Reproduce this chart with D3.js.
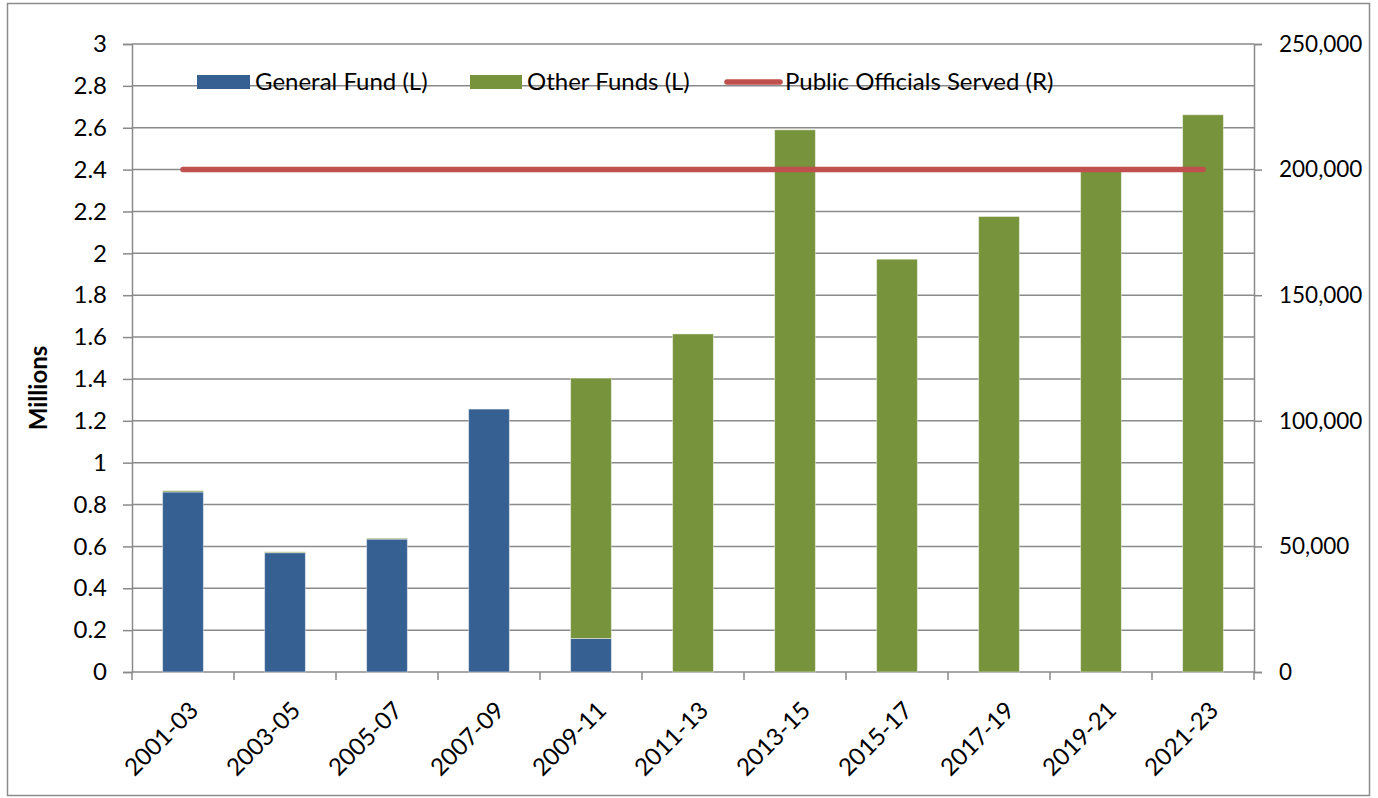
<!DOCTYPE html>
<html>
<head>
<meta charset="utf-8">
<script src="https://cdn.jsdelivr.net/npm/d3@7"></script>
<style>
  html, body { margin: 0; padding: 0; background: #fff; }
  svg { display: block; }
  text { font-family: Lato, "Open Sans", sans-serif; fill: #000; }
</style>
</head>
<body>
<svg id="chart" width="1378" height="798"></svg>
<script>
const categories = ["2001-03","2003-05","2005-07","2007-09","2009-11","2011-13","2013-15","2015-17","2017-19","2019-21","2021-23"];
const generalFund = [0.860, 0.570, 0.635, 1.256, 0.160, 0, 0, 0, 0, 0, 0];
const otherFunds  = [0.006, 0.004, 0.004, 0.000, 1.244, 1.615, 2.590, 1.972, 2.176, 2.392, 2.662];
const officialsServed = [200000, 200000, 200000, 200000, 200000, 200000, 200000, 200000, 200000, 200000, 200000];
const leftTicks = [0,0.2,0.4,0.6,0.8,1,1.2,1.4,1.6,1.8,2,2.2,2.4,2.6,2.8,3];
const rightTicks = [0,50000,100000,150000,200000,250000];
const seriesNames = ["General Fund (L)", "Other Funds (L)", "Public Officials Served (R)"];

const colors = { gf: "#366092", of: "#77933C", line: "#C0504D", grid: "#8a8a8a" };
const margin = { left: 132, right: 1254, top: 44, bottom: 672 };
const FS = "24px";

const svg = d3.select("#chart");

// outer border
svg.append("rect").attr("x", 7.5).attr("y", 3.5).attr("width", 1362).attr("height", 792)
  .attr("fill", "none").attr("stroke", "#8c8c8c").attr("stroke-width", 1.5);

const x = d3.scaleBand().domain(categories).range([margin.left, margin.right])
  .paddingInner(0.6).paddingOuter(0.3);
const step = x.step();
const yL = d3.scaleLinear().domain([0, 3]).range([margin.bottom, margin.top]);
const yR = d3.scaleLinear().domain([0, 250000]).range([margin.bottom, margin.top]);

// gridlines
svg.append("g").selectAll("line").data(leftTicks.filter(d => d > 0)).join("line")
  .attr("x1", margin.left).attr("x2", margin.right)
  .attr("y1", d => yL(d)).attr("y2", d => yL(d))
  .attr("stroke", colors.grid).attr("stroke-width", 1.5);

// left axis
const axL = svg.append("g").attr("transform", `translate(${margin.left},0)`)
  .call(d3.axisLeft(yL).tickValues(leftTicks).tickSize(9).tickPadding(16).tickFormat(d => String(+d.toFixed(1))));
axL.select(".domain").attr("stroke", colors.grid).attr("stroke-width", 1.5);
axL.selectAll(".tick line").attr("stroke", colors.grid).attr("stroke-width", 1.5);
axL.selectAll("text").style("font-size", FS).style("font-family", "Lato, 'Open Sans', sans-serif").attr("fill", "#000");

// right axis
const axR = svg.append("g").attr("transform", `translate(${margin.right},0)`)
  .call(d3.axisRight(yR).tickValues(rightTicks).tickSize(8).tickPadding(17).tickFormat(d3.format(",")));
axR.select(".domain").attr("stroke", colors.grid).attr("stroke-width", 1.5);
axR.selectAll(".tick line").attr("stroke", colors.grid).attr("stroke-width", 1.5);
axR.selectAll("text").style("font-size", "22.5px").style("font-family", "Lato, 'Open Sans', sans-serif").attr("fill", "#000");

// bottom axis line and category boundary ticks
svg.append("line").attr("x1", margin.left).attr("x2", margin.right)
  .attr("y1", margin.bottom).attr("y2", margin.bottom)
  .attr("stroke", colors.grid).attr("stroke-width", 1.5);
const boundaries = categories.map(c => x(c) - (step - x.bandwidth()) / 2).concat([margin.right]);
svg.append("g").selectAll("line").data(boundaries).join("line")
  .attr("x1", d => d).attr("x2", d => d)
  .attr("y1", margin.bottom).attr("y2", margin.bottom + 8)
  .attr("stroke", colors.grid).attr("stroke-width", 1.5);

// x labels
svg.append("g").selectAll("text").data(categories).join("text")
  .attr("transform", d => `translate(${x(d) + x.bandwidth() / 2 + 5},${margin.bottom + 28}) rotate(-45)`)
  .attr("text-anchor", "end").attr("dy", "0.7em")
  .style("font-size", FS).text(d => d);

// stacked bars
const stackData = categories.map((c, i) => ({ cat: c, gf: generalFund[i], of: otherFunds[i] }));
const stack = d3.stack().keys(["gf", "of"])(stackData);
svg.append("g").selectAll("g").data(stack).join("g")
  .attr("fill", d => colors[d.key])
  .selectAll("rect").data(d => d).join("rect")
  .attr("x", d => x(d.data.cat)).attr("width", x.bandwidth())
  .attr("y", d => yL(d[1])).attr("height", d => Math.max(0, yL(d[0]) - yL(d[1])))
  .attr("stroke", "rgba(255,255,255,0.45)").attr("stroke-width", 1);

// line
const line = d3.line().x((d, i) => x(categories[i]) + x.bandwidth() / 2).y(d => yR(d));
svg.append("path").datum(officialsServed).attr("d", line)
  .attr("fill", "none").attr("stroke", colors.line).attr("stroke-width", 5.5)
  .attr("stroke-linecap", "round");

// y title
svg.append("text").attr("transform", "translate(47,388) rotate(-90)")
  .attr("text-anchor", "middle").style("font-size", FS).style("font-weight", "bold").text("Millions");

// legend
const lg = svg.append("g");
const lgY = 82;
lg.append("rect").attr("x", 197).attr("y", lgY - 7).attr("width", 53).attr("height", 14).attr("fill", colors.gf);
lg.append("text").attr("x", 255).attr("y", lgY).attr("dy", "0.35em").style("font-size", FS).text(seriesNames[0]);
lg.append("rect").attr("x", 470).attr("y", lgY - 7).attr("width", 52).attr("height", 14).attr("fill", colors.of);
lg.append("text").attr("x", 527).attr("y", lgY).attr("dy", "0.35em").style("font-size", FS).text(seriesNames[1]);
lg.append("line").attr("x1", 727).attr("x2", 780).attr("y1", lgY).attr("y2", lgY)
  .attr("stroke", colors.line).attr("stroke-width", 5.5).attr("stroke-linecap", "round");
lg.append("text").attr("x", 785).attr("y", lgY).attr("dy", "0.35em").style("font-size", FS).text(seriesNames[2]);
</script>
</body>
</html>
